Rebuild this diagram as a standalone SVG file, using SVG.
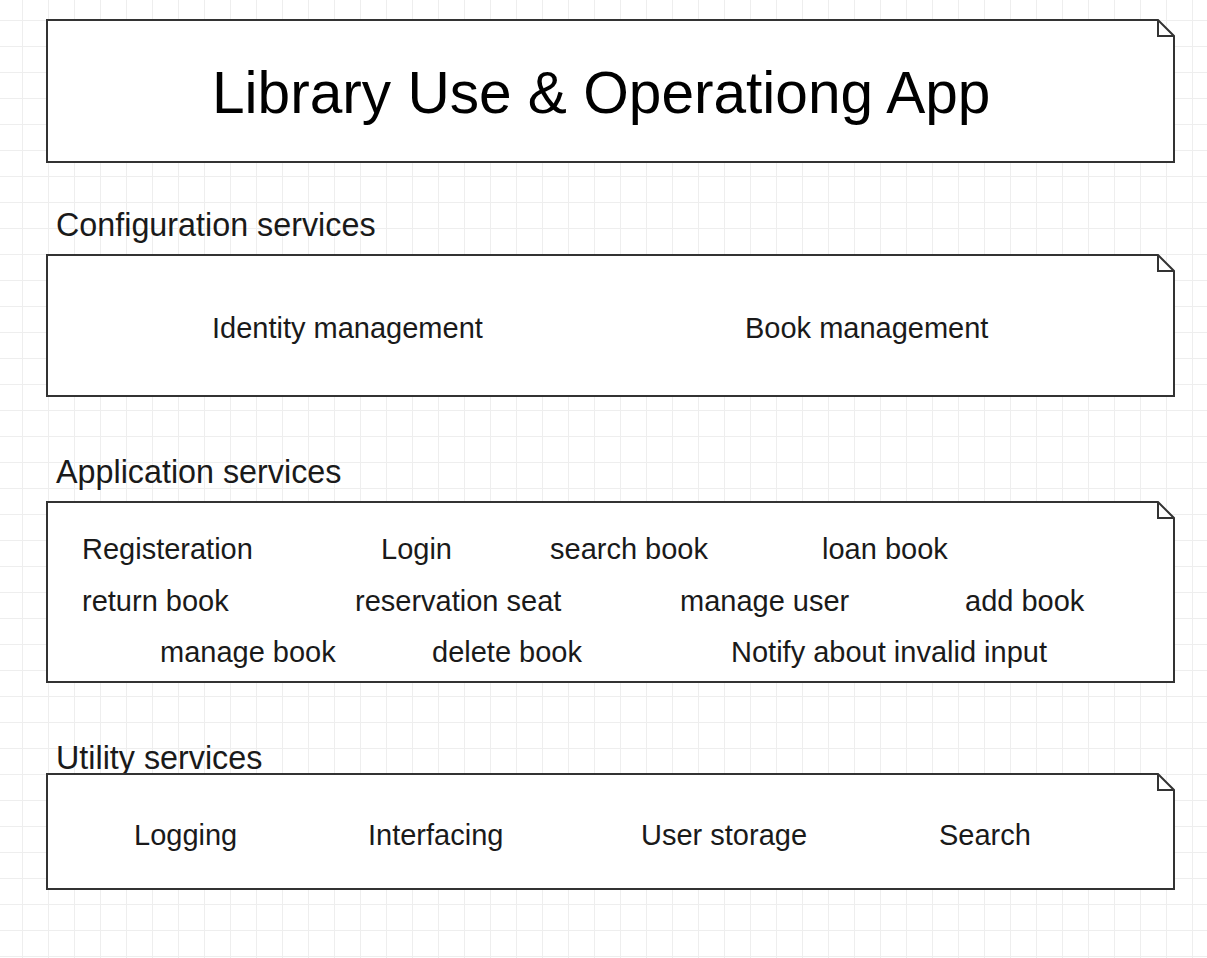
<svg xmlns="http://www.w3.org/2000/svg" width="1207" height="958" viewBox="0 0 1207 958">
<style>
.box{fill:#fff;stroke:#333;stroke-width:2}
.fold{fill:none;stroke:#333;stroke-width:2;stroke-linejoin:miter}
.t{font-family:"Liberation Sans",Arial,sans-serif;fill:#1a1a1a}
.title{font-size:58.6px;fill:#000}
.lab{font-size:32.3px}
.item{font-size:29px}
</style>
<defs>
<pattern id="grid" patternUnits="userSpaceOnUse" x="22" y="20" width="26" height="26">
<path d="M0 0H26M0 0V26" fill="none" stroke="#eeeeee" stroke-width="2"/>
</pattern>
</defs>
<rect width="1207" height="958" fill="#fff"/>
<rect width="1207" height="958" fill="url(#grid)"/>

<g id="title-note">
<path class="box" d="M47 20H1158L1174 36V162H47Z"/>
<path class="fold" d="M1158 20V36H1174"/>
<text class="t title" x="212" y="113">Library Use &amp; Operationg App</text>
</g>

<g id="configuration-services">
<text class="t lab" x="56" y="236">Configuration services</text>
<path class="box" d="M47 255H1158L1174 271V396H47Z"/>
<path class="fold" d="M1158 255V271H1174"/>
<text class="t item" x="212" y="338">Identity management</text>
<text class="t item" x="745" y="338">Book management</text>
</g>

<g id="application-services">
<text class="t lab" x="56" y="483">Application services</text>
<path class="box" d="M47 502H1158L1174 518V682H47Z"/>
<path class="fold" d="M1158 502V518H1174"/>
<text class="t item" x="82" y="559">Registeration</text>
<text class="t item" x="381" y="559">Login</text>
<text class="t item" x="550" y="559">search book</text>
<text class="t item" x="822" y="559">loan book</text>
<text class="t item" x="82" y="611">return book</text>
<text class="t item" x="355" y="611">reservation seat</text>
<text class="t item" x="680" y="611">manage user</text>
<text class="t item" x="965" y="611">add book</text>
<text class="t item" x="160" y="662">manage book</text>
<text class="t item" x="432" y="662">delete book</text>
<text class="t item" x="731" y="662">Notify about invalid input</text>
</g>

<g id="utility-services">
<text class="t lab" x="56" y="769">Utility services</text>
<path class="box" d="M47 774H1158L1174 790V889H47Z"/>
<path class="fold" d="M1158 774V790H1174"/>
<text class="t item" x="134" y="845">Logging</text>
<text class="t item" x="368" y="845">Interfacing</text>
<text class="t item" x="641" y="845">User storage</text>
<text class="t item" x="939" y="845">Search</text>
</g>

<g id="connectors"/>
</svg>
